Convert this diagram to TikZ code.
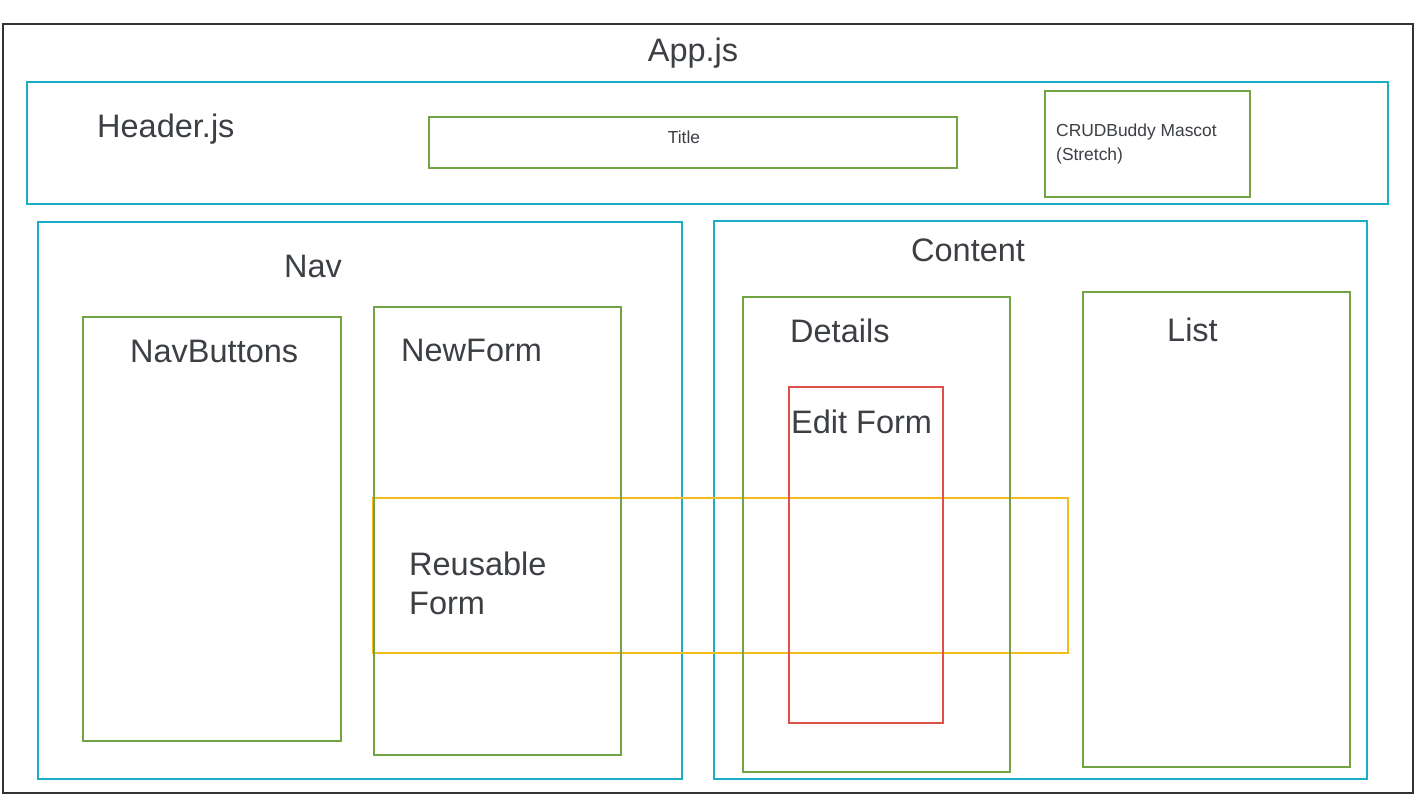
\documentclass[tikz,border=0pt]{standalone}
\usepackage{fontspec}
\setmainfont{Liberation Sans}
\definecolor{cyanc}{HTML}{1AAEC4}
\definecolor{greenc}{HTML}{72A443}
\definecolor{redc}{HTML}{E0504A}
\definecolor{yellowc}{HTML}{F2BC1C}
\definecolor{textc}{HTML}{3C3F43}
\definecolor{outerc}{HTML}{333333}
\begin{document}
\begin{tikzpicture}[x=1pt,y=-1pt,
  box/.style={draw, line width=2pt, inner sep=0pt, outer sep=0pt, anchor=north west, fill=none},
  big/.style={text=textc, inner sep=0pt, font=\fontsize{32.5}{39}\selectfont, anchor=base west, align=left},
  small/.style={text=textc, inner sep=0pt, font=\fontsize{17.4}{24}\selectfont, anchor=base west, align=left}]
\useasboundingbox (0,0) rectangle (1422,800);
\fill[white] (0,0) rectangle (1422,800);
% boxes
\node[box, draw=outerc, minimum width=1410pt, minimum height=769pt] (app) at (3,24) {};
\node[box, draw=cyanc, minimum width=1361pt, minimum height=122pt] (header) at (27,82) {};
\node[box, draw=greenc, minimum width=528pt, minimum height=51pt] (title) at (429,117) {};
\node[box, draw=greenc, minimum width=205pt, minimum height=106pt] (mascot) at (1045,91) {};
\node[box, draw=cyanc, minimum width=644pt, minimum height=557pt] (nav) at (38,222) {};
\node[box, draw=cyanc, minimum width=653pt, minimum height=558pt] (content) at (714,221) {};
\node[box, draw=yellowc, minimum width=695pt, minimum height=155pt] (reusable) at (373,498) {};
\node[box, draw=greenc, minimum width=258pt, minimum height=424pt] (navbuttons) at (83,317) {};
\node[box, draw=greenc, minimum width=247pt, minimum height=448pt] (newform) at (374,307) {};
\node[box, draw=greenc, minimum width=267pt, minimum height=475pt] (details) at (743,297) {};
\node[box, draw=greenc, minimum width=267pt, minimum height=475pt] (list) at (1083,292) {};
\node[box, draw=redc, minimum width=154pt, minimum height=336pt] (editform) at (789,387) {};
% labels
\node[big, anchor=base] (tapp) at (693,62) {App.js};
\node[big] (theader) at (97,137) {Header.js};
\node[small, anchor=base] (ttitle) at (684,143) {Title};
\node[small] (tmascot) at (1056,160) {CRUDBuddy Mascot\\(Stretch)};
\node[big] (tnav) at (284,277) {Nav};
\node[big] (tcontent) at (911,261) {Content};
\node[big] (tnavbuttons) at (130,362) {NavButtons};
\node[big] (tnewform) at (401,361) {NewForm};
\node[big] (tdetails) at (790,342) {Details};
\node[big] (tlist) at (1167,341) {List};
\node[big] (tedit) at (791,433) {Edit Form};
\node[big] (treusable) at (409,614) {Reusable\\Form};
\end{tikzpicture}
\end{document}
